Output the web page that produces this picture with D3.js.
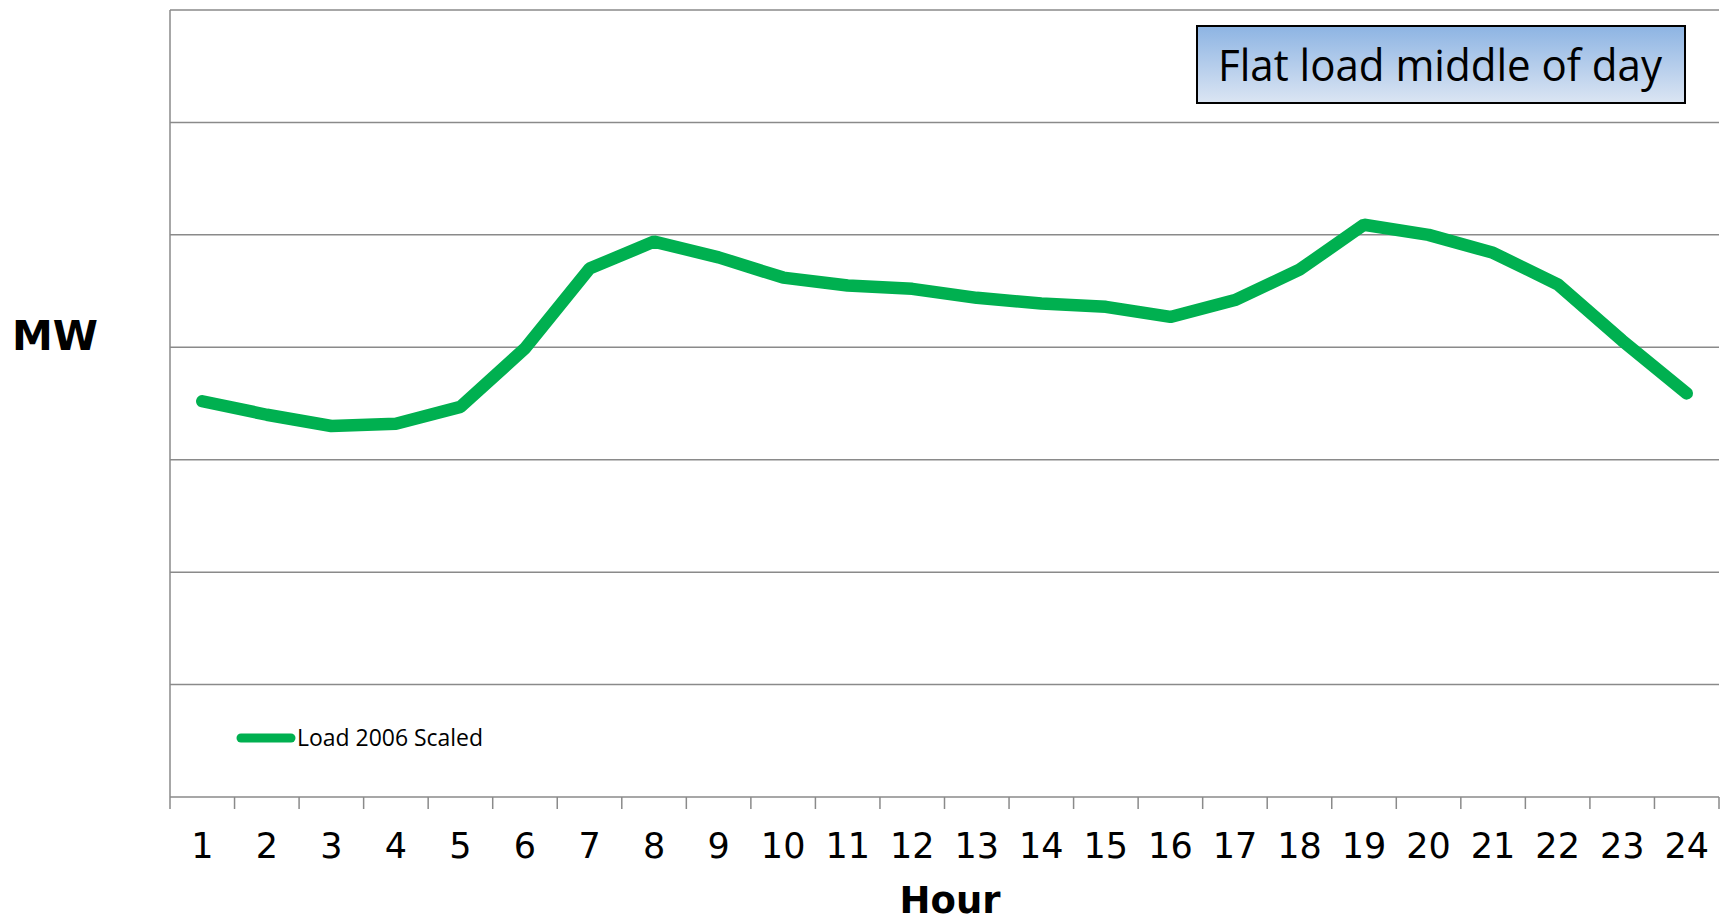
<!DOCTYPE html>
<html>
<head>
<meta charset="utf-8">
<script src="https://cdnjs.cloudflare.com/ajax/libs/d3/7.8.5/d3.min.js"></script>
<style>
    body { margin: 0; background: #fff; }
</style>
</head>
<body>
<div id="chartArea"></div>
<script>
// hourly load (units = gridline steps, no MW labels shown)
var hours = d3.range(1, 25);
var load = [3.52, 3.40, 3.30, 3.32, 3.47, 3.99, 4.70, 4.94, 4.80, 4.62, 4.55, 4.52,
            4.44, 4.39, 4.36, 4.27, 4.42, 4.69, 5.09, 5.00, 4.84, 4.56, 4.06, 3.59];
var gridValues = [1, 2, 3, 4, 5, 6, 7];
var seriesName = 'Load 2006 Scaled';
var titleText = 'Flat load middle of day';

var margin = {top: 10, right: 4, bottom: 126, left: 170};
var W = 1723, H = 923;
var w = W - margin.left - margin.right,
    h = H - margin.top - margin.bottom;

var svg = d3.select('#chartArea').append('svg')
    .attr('width', W)
    .attr('height', H);

var defs = svg.append('defs');
var grad = defs.append('linearGradient')
    .attr('id', 'boxFill')
    .attr('x1', 0).attr('y1', 0).attr('x2', 0).attr('y2', 1);
grad.append('stop').attr('offset', '0%').attr('stop-color', '#8db4e3');
grad.append('stop').attr('offset', '100%').attr('stop-color', '#dbe5f3');

var g = svg.append('g')
    .attr('transform', 'translate(' + margin.left + ',' + margin.top + ')');

var xScale = d3.scaleBand()
    .domain(hours)
    .range([0, w]);

var yScale = d3.scaleLinear()
    .domain([0, 7])
    .range([h, 0]);

// horizontal gridlines
g.selectAll('line.grid')
    .data(gridValues)
    .enter()
    .append('line')
    .attr('class', 'grid')
    .attr('x1', 0)
    .attr('x2', w)
    .attr('y1', function (d) { return yScale(d); })
    .attr('y2', function (d) { return yScale(d); })
    .attr('stroke', '#8a8a8a')
    .attr('stroke-width', 1.5);

// left axis line
g.append('line')
    .attr('x1', 0).attr('x2', 0)
    .attr('y1', yScale(7)).attr('y2', h)
    .attr('stroke', '#8a8a8a')
    .attr('stroke-width', 1.5);

// x axis: line + ticks on band edges
g.append('line')
    .attr('x1', 0).attr('x2', w)
    .attr('y1', h).attr('y2', h)
    .attr('stroke', '#8a8a8a')
    .attr('stroke-width', 1.5);

var edges = hours.map(function (d) { return xScale(d); }).concat([w]);
g.selectAll('line.tick')
    .data(edges)
    .enter()
    .append('line')
    .attr('class', 'tick')
    .attr('x1', function (d) { return d; })
    .attr('x2', function (d) { return d; })
    .attr('y1', h)
    .attr('y2', h + 12)
    .attr('stroke', '#8a8a8a')
    .attr('stroke-width', 1.5);

g.selectAll('text.hour')
    .data(hours)
    .enter()
    .append('text')
    .attr('class', 'hour')
    .attr('x', function (d) { return xScale(d) + xScale.bandwidth() / 2; })
    .attr('y', h + 61)
    .attr('text-anchor', 'middle')
    .style('font-family', 'DejaVu Sans, Verdana, sans-serif')
    .style('font-size', '35px')
    .attr('fill', '#000')
    .text(function (d) { return d; });

// the load line
var line = d3.line()
    .x(function (d, i) { return xScale(hours[i]) + xScale.bandwidth() / 2; })
    .y(function (d) { return yScale(d); });

g.append('path')
    .datum(load)
    .attr('d', line)
    .attr('fill', 'none')
    .attr('stroke', '#00b050')
    .attr('stroke-width', 12.5)
    .attr('stroke-linejoin', 'bevel')
    .attr('stroke-linecap', 'round');

// axis titles
svg.append('text')
    .attr('x', 55)
    .attr('y', 350)
    .attr('text-anchor', 'middle')
    .style('font-family', 'DejaVu Sans, Verdana, sans-serif')
    .style('font-weight', 'bold')
    .style('font-size', '41px')
    .text('MW');

svg.append('text')
    .attr('x', 950)
    .attr('y', 913)
    .attr('text-anchor', 'middle')
    .style('font-family', 'DejaVu Sans, Verdana, sans-serif')
    .style('font-weight', 'bold')
    .style('font-size', '37px')
    .text('Hour');

// legend
var legend = svg.append('g').attr('transform', 'translate(241,738)');
legend.append('line')
    .attr('x1', 0).attr('x2', 50)
    .attr('y1', 0).attr('y2', 0)
    .attr('stroke', '#00b050')
    .attr('stroke-width', 9)
    .attr('stroke-linecap', 'round');
legend.append('text')
    .attr('x', 56)
    .attr('y', 8)
    .attr('textLength', 186)
    .attr('lengthAdjust', 'spacingAndGlyphs')
    .style('font-family', 'Open Sans, sans-serif')
    .style('font-size', '23px')
    .text(seriesName);

// title box
var box = svg.append('g').attr('transform', 'translate(1197,26)');
box.append('rect')
    .attr('width', 488)
    .attr('height', 77)
    .attr('fill', 'url(#boxFill)')
    .attr('stroke', '#000')
    .attr('stroke-width', 2);
box.append('text')
    .attr('x', 21)
    .attr('y', 55)
    .attr('textLength', 444)
    .attr('lengthAdjust', 'spacingAndGlyphs')
    .style('font-family', 'Open Sans, sans-serif')
    .style('font-size', '43px')
    .text(titleText);
</script>
</body>
</html>
